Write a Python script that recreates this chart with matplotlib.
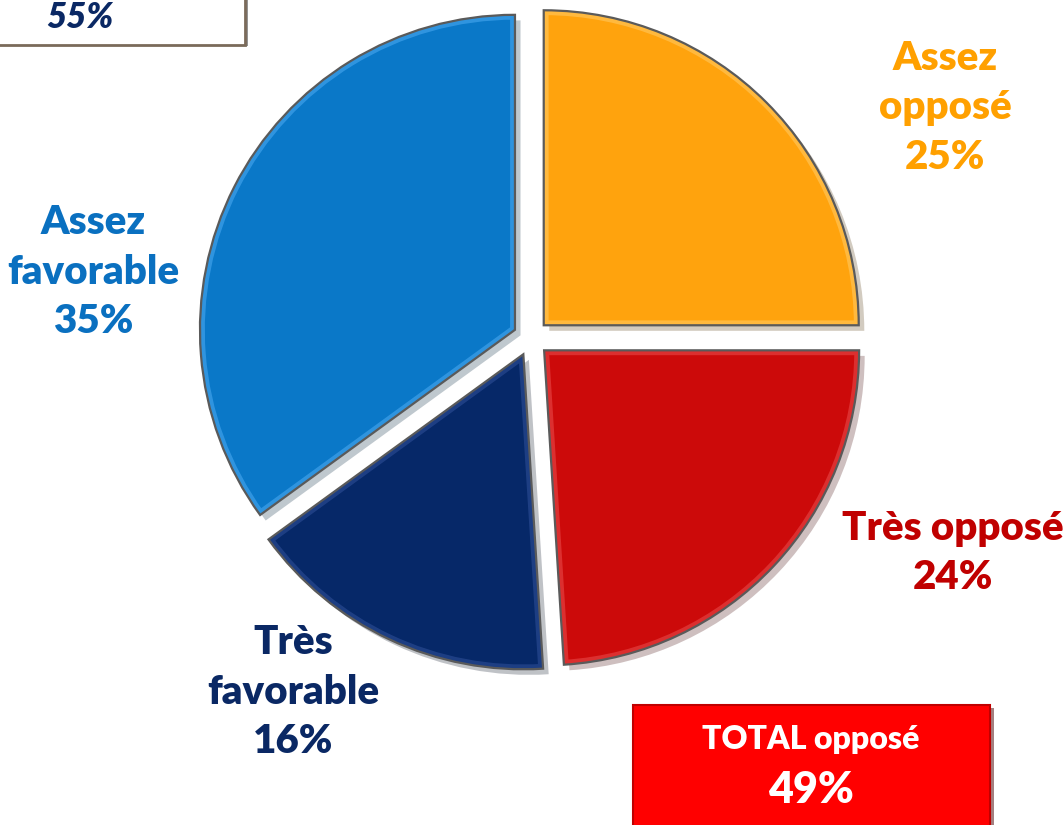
import matplotlib
matplotlib.use('Agg')
import matplotlib.pyplot as plt
import matplotlib.patheffects as pe
from matplotlib.patches import Rectangle, PathPatch

plt.rcParams['font.family'] = ['Lato', 'DejaVu Sans']

# -- data -----------------------------------------------------------------
labels      = ['Assez\nopposé', 'Très opposé', 'Très\nfavorable', 'Assez\nfavorable']
values      = [25, 24, 16, 35]
pie_colors  = ['#FFA30D', '#CC0A0A', '#062868', '#0A78C8']
bevel_cols  = ['#FFC860', '#E84848', '#2E4E96', '#48A8F0']
text_colors = ['#FFA000', '#C00000', '#0A2864', '#0A70C0']
total_fav   = 55
total_opp   = 49

# -- figure (axes in pixel units, y up) -------------------------------------
W, H = 1064, 825
fig = plt.figure(figsize=(W / 100, H / 100), dpi=100)
ax = fig.add_axes([0, 0, 1, 1])

R = 315
cx, cy = 531, H - 338

# explode is in data units here (pixels), not a fraction of the radius
wedges, _ = ax.pie(values, colors=pie_colors, startangle=90, counterclock=False,
                   radius=R, center=(cx, cy), explode=[18] * len(values),
                   wedgeprops=dict(edgecolor='none', linewidth=0),
                   frame=True)
ax.set_xlim(0, W)
ax.set_ylim(0, H)
ax.set_aspect('equal')
ax.axis('off')

for w, bc in zip(wedges, bevel_cols):
    w.set_path_effects([pe.SimplePatchShadow(offset=(4, -4), alpha=0.25),
                        pe.Normal()])
    # soft bevel: inner half of a light stroke, clipped to the wedge
    bevel = PathPatch(w.get_path(), transform=w.get_transform(),
                      facecolor='none', edgecolor=bc, linewidth=7, alpha=0.6)
    ax.add_patch(bevel)
    bevel.set_clip_path(w)
    ax.add_patch(PathPatch(w.get_path(), transform=w.get_transform(),
                           facecolor='none', edgecolor='#5a5a5a', linewidth=1.6))

# -- slice labels ---------------------------------------------------------
label_pos = [(945, H - 108), (953, H - 553), (293, H - 692), (93, H - 272)]
for lab, v, col, (x, y) in zip(labels, values, text_colors, label_pos):
    ax.text(x, y, f'{lab}\n{v}%', color=col, fontsize=29, fontweight='heavy',
            ha='center', va='center', linespacing=1.43)

# -- total boxes ----------------------------------------------------------
ax.add_patch(Rectangle((-10, H - 45), 255, 80, facecolor='white',
                       edgecolor='#7a6a5a', linewidth=2,
                       path_effects=[pe.SimplePatchShadow(offset=(2, -1), alpha=0.6),
                                     pe.Normal()]))
ax.text(80, H - 17, f'{total_fav}%', color='#0A2864', fontsize=25,
        fontweight='heavy', fontstyle='italic', ha='center', va='center')

ax.add_patch(Rectangle((633, -20), 357, H - 705 + 20, facecolor='#FF0000',
                       edgecolor='#C00000', linewidth=1.5,
                       path_effects=[pe.SimplePatchShadow(offset=(3, -2), alpha=0.5),
                                     pe.Normal()]))
ax.text(811, H - 740, 'TOTAL opposé', color='white', fontsize=23,
        fontweight='heavy', ha='center', va='center')
ax.text(811, H - 790, f'{total_opp}%', color='white', fontsize=31,
        fontweight='heavy', ha='center', va='center')

fig.savefig('out.png', dpi=100)
